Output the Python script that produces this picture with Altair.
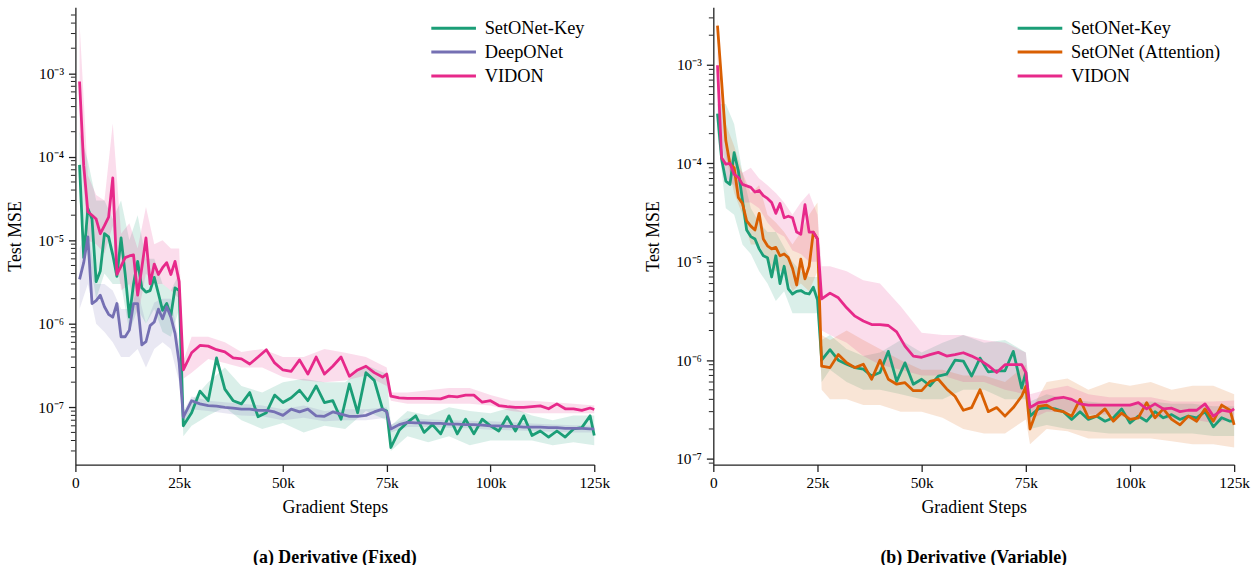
import altair as alt
import pandas as pd

# ---------------- data (x in thousands of gradient steps) ----------------
STEPS_K = list(range(1, 27)) + list(range(28, 75, 2)) + [75, 76] + list(range(78, 125, 2)) + [125]
BAND_K = [1, 3, 5, 7, 9, 11, 13, 15, 17, 19, 21, 23, 25, 26, 28, 32, 36, 40, 45, 50, 55, 60, 65, 70,
          75, 76, 80, 85, 90, 95, 100, 105, 110, 115, 120, 125]

# Panel (a) Derivative (Fixed)
L_KEY = [8.0e-5, 6.2e-6, 2.4e-5, 1.8e-5, 3.2e-6, 4.3e-6, 1.2e-5, 1.1e-5, 6.7e-6, 3.7e-6, 1.07e-5, 3.9e-6, 1.2e-6,
         3.0e-6, 5.6e-6, 2.7e-6, 2.4e-6, 2.5e-6, 3.6e-6, 2.3e-6, 1.45e-6, 1.75e-6, 1.25e-6, 2.7e-6, 2.5e-6, 6.0e-8,
         8.6e-8, 1.56e-7, 1.2e-7, 3.9e-7, 1.65e-7, 1.2e-7, 1.1e-7, 1.5e-7, 7.7e-8, 8.6e-8, 1.4e-7, 1.14e-7,
         1.3e-7, 1.6e-7, 1.2e-7, 1.8e-7, 1.14e-7, 1.2e-7, 7.2e-8, 1.9e-7, 8.6e-8, 2.6e-7, 2.1e-7, 9.5e-8,
         9.0e-8, 3.3e-8,
         5.3e-8, 6.6e-8, 7.9e-8, 5.0e-8, 6.2e-8, 4.8e-8, 7.9e-8, 4.8e-8, 7.2e-8, 4.8e-8, 7.2e-8, 6.0e-8,
         5.2e-8, 7.7e-8, 5.2e-8, 7.9e-8, 4.6e-8, 5.2e-8, 4.4e-8, 5.2e-8, 4.4e-8, 5.5e-8, 5.7e-8, 7.9e-8,
         4.6e-8]
L_DEEP = [3.4e-6, 5.4e-6, 1.1e-5, 1.75e-6, 1.9e-6, 2.2e-6, 1.6e-6, 1.3e-6, 1.2e-6, 1.75e-6, 7.0e-7, 7.0e-7, 8.4e-7,
          1.75e-6, 1.75e-6, 5.6e-7, 6.1e-7, 9.5e-7, 1.05e-6, 1.5e-6, 1.15e-6, 1.6e-6, 1.2e-6, 7.7e-7, 3.4e-7, 7.6e-8,
          1.2e-7, 1.1e-7, 1.05e-7, 1.03e-7, 1.0e-7, 9.8e-8, 9.5e-8, 9.5e-8, 9.2e-8, 9.2e-8, 8.8e-8, 8.0e-8,
          9.5e-8, 8.8e-8, 9.5e-8, 7.9e-8, 7.8e-8, 8.8e-8, 8.3e-8, 7.8e-8, 7.8e-8, 8.0e-8, 8.8e-8, 9.5e-8,
          8.8e-8, 5.5e-8,
          6.2e-8, 6.6e-8, 6.5e-8, 6.5e-8, 6.4e-8, 6.4e-8, 6.3e-8, 6.3e-8, 6.2e-8, 6.2e-8, 6.1e-8, 6.0e-8,
          6.0e-8, 5.9e-8, 5.9e-8, 5.8e-8, 5.8e-8, 5.8e-8, 5.7e-8, 5.7e-8, 5.6e-8, 5.6e-8, 5.6e-8, 5.5e-8,
          5.5e-8]
L_VIDON = [8.0e-4, 7.9e-5, 2.2e-5, 2.0e-5, 1.8e-5, 1.2e-5, 1.5e-5, 1.9e-5, 5.6e-5, 3.9e-6, 4.9e-6, 6.2e-6, 6.5e-6,
           6.7e-6, 2.2e-6, 4.7e-6, 1.07e-5, 3.0e-6, 5.2e-6, 3.9e-6, 4.7e-6, 5.4e-6, 3.9e-6, 5.6e-6, 3.2e-6, 2.8e-7,
           4.5e-7, 5.5e-7, 5.4e-7, 4.9e-7, 4.6e-7, 3.9e-7, 3.8e-7, 3.3e-7, 4.0e-7, 4.9e-7, 3.4e-7, 2.8e-7,
           2.7e-7, 3.7e-7, 2.5e-7, 4.0e-7, 2.5e-7, 3.1e-7, 4.0e-7, 2.35e-7, 2.8e-7, 3.1e-7, 2.6e-7, 2.3e-7,
           2.5e-7, 1.36e-7,
           1.3e-7, 1.28e-7, 1.28e-7, 1.28e-7, 1.27e-7, 1.26e-7, 1.36e-7, 1.33e-7, 1.4e-7, 1.4e-7, 1.15e-7, 1.2e-7,
           1.05e-7, 1.02e-7, 1.0e-7, 1.0e-7, 1.02e-7, 1.04e-7, 9.6e-8, 1.1e-7, 9.6e-8, 9.6e-8, 9.2e-8, 9.8e-8,
           9.4e-8]

L_KEY_LO = [3e-5, 8e-6, 2e-6, 4e-6, 3e-6, 3e-6, 8e-7, 1.5e-6, 1e-6, 1.5e-6, 8e-7, 7e-7, 1.5e-6, 4.5e-8, 6e-8, 8e-8,
            1e-7, 7e-8, 5.5e-8, 6.5e-8, 5e-8, 6e-8, 5.5e-8, 9e-8, 7e-8, 3e-8, 4.5e-8, 3.8e-8, 4.5e-8, 3.5e-8, 4e-8,
            4e-8, 4e-8, 3.5e-8, 3.8e-8, 3.5e-8]
L_KEY_HI = [2e-4, 9e-5, 3e-5, 3e-5, 1.8e-5, 3e-5, 1e-5, 2e-5, 6e-6, 6e-6, 3e-6, 2.5e-6, 4e-6, 8e-8, 1.2e-7, 2e-7,
            3e-7, 1.8e-7, 1.5e-7, 2e-7, 2.2e-7, 2e-7, 2e-7, 3.2e-7, 2.5e-7, 6e-8, 9e-8, 8e-8, 1e-7, 9e-8, 8.5e-8,
            1e-7, 8e-8, 7e-8, 8e-8, 8e-8]
L_DEEP_LO = [1.5e-6, 3e-6, 1e-6, 8e-7, 6e-7, 4e-7, 4e-7, 5e-7, 3e-7, 5e-7, 6e-7, 5e-7, 2e-7, 6.5e-8, 9.5e-8, 9e-8,
             8.5e-8, 8e-8, 7.8e-8, 7e-8, 7.5e-8, 6.8e-8, 7e-8, 7e-8, 7.5e-8, 5e-8, 5.8e-8, 5.8e-8, 5.7e-8, 5.6e-8,
             5.4e-8, 5.3e-8, 5.2e-8, 5.1e-8, 5e-8, 5e-8]
L_DEEP_HI = [8e-6, 1.5e-5, 3e-6, 3e-6, 2.5e-6, 1.5e-6, 1.5e-6, 2.5e-6, 1e-6, 1.8e-6, 2e-6, 2e-6, 6e-7, 9e-8,
             1.35e-7, 1.2e-7, 1.15e-7, 1.1e-7, 1.05e-7, 9.5e-8, 1.05e-7, 9e-8, 9.5e-8, 9.5e-8, 1e-7, 6.2e-8, 7.4e-8,
             7.2e-8, 7e-8, 6.9e-8, 6.8e-8, 6.6e-8, 6.4e-8, 6.2e-8, 6.1e-8, 6e-8]
L_VIDON_LO = [2e-4, 1e-5, 9e-6, 7e-6, 1.5e-5, 2.5e-6, 3e-6, 1.2e-6, 4e-6, 3e-6, 3e-6, 2.5e-6, 2e-6, 2.2e-7, 2.6e-7,
              3.8e-7, 3.4e-7, 3e-7, 3e-7, 2.3e-7, 2.1e-7, 2e-7, 2.1e-7, 2.4e-7, 1.8e-7, 1.2e-7, 1.1e-7, 1.1e-7,
              1.1e-7, 1.1e-7, 1.05e-7, 9e-8, 8.5e-8, 8.5e-8, 8.5e-8, 8.5e-8]
L_VIDON_HI = [4e-3, 6e-5, 3.5e-5, 3e-5, 2.5e-4, 1.2e-5, 1.6e-5, 8e-6, 2.5e-5, 9e-6, 1e-5, 8e-6, 8e-6, 3.6e-7, 7e-7,
              7e-7, 6e-7, 4.6e-7, 5e-7, 4e-7, 4e-7, 5e-7, 4.5e-7, 4e-7, 3e-7, 1.5e-7, 1.5e-7, 1.6e-7, 1.7e-7,
              1.7e-7, 1.4e-7, 1.2e-7, 1.2e-7, 1.15e-7, 1.1e-7, 1.05e-7]

# Panel (b) Derivative (Variable)
R_KEY = [3.2e-4, 1.1e-4, 6.6e-5, 6.1e-5, 1.28e-4, 8.4e-5, 4.2e-5, 2.1e-5, 1.8e-5, 1.7e-5, 1.35e-5, 1.15e-5, 1.1e-5,
         7.0e-6, 1.15e-5, 6.0e-6, 9.0e-6, 5.3e-6, 4.7e-6, 5.0e-6, 5.1e-6, 4.8e-6, 4.7e-6, 5.5e-6, 4.1e-6, 1.0e-6,
         1.28e-6, 1.0e-6, 9.1e-7, 8.4e-7, 8.1e-7, 6.9e-7, 7.5e-7, 1.23e-6, 6.1e-7, 9.4e-7, 5.7e-7, 6.4e-7,
         5.5e-7, 6.9e-7, 7.2e-7, 1.0e-6, 9.8e-7, 6.9e-7, 1.05e-6, 7.6e-7, 7.8e-7, 7.8e-7, 1.23e-6, 5.2e-7,
         7.5e-7, 2.7e-7,
         3.2e-7, 3.3e-7, 3.2e-7, 3.0e-7, 2.5e-7, 3.0e-7, 2.5e-7, 2.7e-7, 2.4e-7, 2.6e-7, 3.2e-7, 2.3e-7,
         2.7e-7, 2.4e-7, 3.0e-7, 2.6e-7, 2.8e-7, 2.5e-7, 2.7e-7, 2.6e-7, 3.0e-7, 2.1e-7, 2.6e-7, 2.4e-7,
         2.4e-7]
R_ATT = [2.5e-3, 6.7e-4, 1.7e-4, 9.8e-5, 9.0e-5, 4.5e-5, 3.9e-5, 2.6e-5, 2.3e-5, 2.1e-5, 3.1e-5, 1.7e-5, 1.45e-5,
         1.35e-5, 1.4e-5, 1.15e-5, 1.2e-5, 1.1e-5, 8.6e-6, 5.8e-6, 1.06e-5, 6.7e-6, 9.0e-6, 2.0e-5, 1.7e-5, 8.7e-7,
         8.4e-7, 1.14e-6, 9.4e-7, 8.4e-7, 9.1e-7, 6.4e-7, 1.0e-6, 6.4e-7, 5.7e-7, 5.9e-7, 4.9e-7, 4.9e-7,
         6.1e-7, 6.4e-7, 5.1e-7, 4.3e-7, 3.1e-7, 3.3e-7, 5.0e-7, 3.0e-7, 3.3e-7, 2.7e-7, 3.3e-7, 4.3e-7,
         5.4e-7, 2.0e-7,
         3.4e-7, 3.5e-7, 3.1e-7, 3.0e-7, 2.7e-7, 4.0e-7, 2.6e-7, 2.7e-7, 3.2e-7, 2.4e-7, 2.9e-7, 2.5e-7,
         2.6e-7, 3.7e-7, 2.6e-7, 3.2e-7, 2.5e-7, 2.2e-7, 2.7e-7, 2.4e-7, 3.2e-7, 2.4e-7, 3.5e-7, 3.1e-7,
         2.2e-7]
R_VIDON = [9.9e-4, 1.14e-4, 9.8e-5, 1.0e-4, 7.7e-5, 7.2e-5, 6.1e-5, 5.9e-5, 5.7e-5, 5.1e-5, 5.3e-5, 4.7e-5, 4.4e-5,
           4.0e-5, 3.1e-5, 3.9e-5, 2.8e-5, 2.9e-5, 2.8e-5, 2.0e-5, 1.9e-5, 3.8e-5, 2.0e-5, 2.0e-5, 1.7e-5, 4.2e-6,
           4.8e-6, 4.3e-6, 3.4e-6, 2.8e-6, 2.5e-6, 2.3e-6, 2.3e-6, 2.25e-6, 1.94e-6, 1.39e-6, 1.1e-6, 1.07e-6,
           1.14e-6, 1.2e-6, 1.1e-6, 1.14e-6, 1.19e-6, 1.1e-6, 1.0e-6, 8.8e-7, 7.5e-7, 9.0e-7, 9.0e-7, 9.0e-7,
           7.5e-7, 3.3e-7,
           3.7e-7, 3.8e-7, 4.1e-7, 4.2e-7, 4.0e-7, 3.6e-7, 3.5e-7, 3.5e-7, 3.5e-7, 3.5e-7, 3.5e-7, 3.5e-7,
           3.7e-7, 3.2e-7, 3.6e-7, 3.2e-7, 3.25e-7, 3.0e-7, 3.1e-7, 3.1e-7, 3.6e-7, 2.7e-7, 3.1e-7, 3.0e-7,
           3.2e-7]

R_KEY_LO = [2e-4, 3.5e-5, 3e-5, 1.5e-5, 1.2e-5, 8e-6, 6e-6, 4e-6, 5e-6, 3e-6, 3e-6, 3e-6, 3e-6, 6e-7, 8e-7, 6e-7,
            5e-7, 5e-7, 4.5e-7, 4e-7, 4e-7, 5e-7, 5e-7, 4e-7, 4e-7, 2e-7, 2.2e-7, 2e-7, 1.9e-7, 1.8e-7, 1.8e-7,
            1.8e-7, 1.8e-7, 1.8e-7, 1.7e-7, 1.7e-7]
R_KEY_HI = [4e-4, 4e-4, 2.5e-4, 8e-5, 3.5e-5, 2.5e-5, 2e-5, 2e-5, 1.4e-5, 1e-5, 8e-6, 7e-6, 7e-6, 1.6e-6, 1.8e-6,
            1.3e-6, 1.1e-6, 1.2e-6, 1.6e-6, 1.2e-6, 1.5e-6, 1.8e-6, 1.5e-6, 1.6e-6, 1.2e-6, 3.8e-7, 4.5e-7, 4e-7,
            3.8e-7, 3.6e-7, 3.6e-7, 3.8e-7, 3.6e-7, 3.6e-7, 3.4e-7, 3.4e-7]
R_ATT_LO = [1.8e-3, 1.2e-4, 5e-5, 3e-5, 1.5e-5, 1.5e-5, 1e-5, 8e-6, 8e-6, 5e-6, 6e-6, 5e-6, 8e-6, 5e-7, 4e-7, 4e-7,
            3.5e-7, 3.5e-7, 3e-7, 3e-7, 2.6e-7, 2e-7, 1.8e-7, 1.8e-7, 2.5e-7, 1.4e-7, 2e-7, 1.9e-7, 1.6e-7, 1.6e-7,
            1.6e-7, 1.6e-7, 1.5e-7, 1.4e-7, 1.4e-7, 1.3e-7]
R_ATT_HI = [3e-3, 2.5e-4, 1.5e-4, 8e-5, 5e-5, 6e-5, 3e-5, 2.5e-5, 2e-5, 1.5e-5, 2e-5, 3e-5, 4e-5, 1.8e-6, 1.6e-6,
            2e-6, 1.6e-6, 1.3e-6, 1e-6, 8e-7, 8e-7, 7e-7, 7e-7, 6e-7, 9e-7, 3e-7, 6e-7, 6.5e-7, 5e-7, 6e-7, 5.5e-7,
            6e-7, 5e-7, 5.5e-7, 5.5e-7, 4.5e-7]
R_VIDON_LO = [6e-4, 7e-5, 6e-5, 4e-5, 4e-5, 3.5e-5, 2.5e-5, 2e-5, 1.8e-5, 1.3e-5, 1.2e-5, 1e-5, 1e-5, 2e-6, 1.8e-6,
              1.5e-6, 1.1e-6, 9e-7, 8e-7, 7e-7, 7e-7, 6e-7, 6e-7, 5e-7, 4.5e-7, 2.5e-7, 3e-7, 3e-7, 2.8e-7, 2.8e-7,
              2.6e-7, 2.6e-7, 2.5e-7, 2.5e-7, 2.3e-7, 2.5e-7]
R_VIDON_HI = [1.5e-3, 1.3e-4, 1e-4, 8e-5, 9e-5, 7e-5, 6e-5, 5e-5, 4e-5, 3e-5, 4e-5, 5e-5, 3e-5, 9e-6, 9e-6, 8e-6,
              6.5e-6, 6e-6, 3.5e-6, 1.9e-6, 1.8e-6, 1.8e-6, 1.6e-6, 1.5e-6, 1.2e-6, 4.5e-7, 5e-7, 5.5e-7, 4.5e-7,
              4.2e-7, 4.2e-7, 4.2e-7, 3.8e-7, 3.8e-7, 3.8e-7, 3.9e-7]

X_TICKS = [0, 25000, 50000, 75000, 100000, 125000]
X_TICK_LABELS = ["0", "25k", "50k", "75k", "100k", "125k"]
Y_TICKS = [1e-7, 1e-6, 1e-5, 1e-4, 1e-3]
Y_TICK_LABELS = ["10\u207b\u2077", "10\u207b\u2076", "10\u207b\u2075", "10\u207b\u2074", "10\u207b\u00b3"]
L_MINOR = [m * 10.0 ** e for e in (-8, -7, -6, -5, -4, -3) for m in range(2, 10)
           if 2.1e-8 <= m * 10.0 ** e <= 5.5e-3]
R_MINOR = [m * 10.0 ** e for e in (-8, -7, -6, -5, -4, -3) for m in range(2, 10)
           if 8.7e-8 <= m * 10.0 ** e <= 3.8e-3]

COLORS = {"SetONet-Key": "#1b9e77", "DeepONet": "#7570b3", "VIDON": "#e7298a",
          "SetONet (Attention)": "#d95f02"}
FONT = "Liberation Serif"
INK = "#222222"


def js_list(items):
    return "[" + ",".join("'" + s + "'" for s in items) + "]"


X_LABEL_EXPR = js_list(X_TICK_LABELS) + "[round(datum.value/25000)]"
Y_LABEL_EXPR = js_list(Y_TICK_LABELS) + "[round(log(datum.value)/LN10)+7]"


def panel(series, bands, ydomain, minor, title, legend_x, width, height):
    names = [s[0] for s in series]
    line_rows = []
    for name, ys in series:
        for k, v in zip(STEPS_K, ys):
            line_rows.append({"step": k * 1000, "mse": v, "model": name})
    band_rows = []
    for name, (lo, hi) in zip(names, bands):
        for k, a, b in zip(BAND_K, lo, hi):
            band_rows.append({"step": k * 1000, "lo": a, "hi": b, "model": name})
    line_df = pd.DataFrame(line_rows)
    band_df = pd.DataFrame(band_rows)

    xscale = alt.Scale(domain=[0, 125000], nice=False, zero=False)
    yscale = alt.Scale(type="log", domain=ydomain, nice=False)
    cscale = alt.Scale(domain=names, range=[COLORS[n] for n in names])

    xaxis = alt.Axis(values=X_TICKS, labelExpr=X_LABEL_EXPR, title="Gradient Steps", grid=False,
                     tickSize=7, tickWidth=1.3, tickColor=INK, domainColor=INK, domainWidth=1.3,
                     labelFont=FONT, labelFontSize=15.5, labelColor="black", labelPadding=4,
                     titleFont=FONT, titleFontSize=18, titleFontWeight="normal", titleColor="black",
                     titlePadding=8, labelFlush=False)
    yaxis = alt.Axis(values=Y_TICKS, labelExpr=Y_LABEL_EXPR, title="Test MSE", grid=False,
                     tickSize=7, tickWidth=1.3, tickColor=INK, domainColor=INK, domainWidth=1.3,
                     labelFont=FONT, labelFontSize=15.5, labelColor="black", labelPadding=5,
                     labelOverlap=False, titleFont=FONT, titleFontSize=18, titleFontWeight="normal",
                     titleColor="black", titleX=-60, titleY=height / 2, titleAngle=270,
                     titleAlign="center", titleBaseline="middle")
    legend = alt.Legend(orient="none", legendX=legend_x, legendY=12, title=None,
                        symbolType="M-3,0H3", symbolSize=225, symbolStrokeWidth=3,
                        symbolOpacity=1, labelFont=FONT, labelFontSize=18.5,
                        labelColor="black", labelOffset=22, rowPadding=5, padding=0)

    band = alt.Chart(band_df).mark_area(opacity=0.16).encode(
        x=alt.X("step:Q", scale=xscale, axis=xaxis),
        y=alt.Y("lo:Q", scale=yscale, axis=yaxis),
        y2="hi:Q",
        color=alt.Color("model:N", scale=cscale, legend=legend),
    )
    line = alt.Chart(line_df).mark_line(strokeWidth=2.8, strokeJoin="round").encode(
        x=alt.X("step:Q", scale=xscale, axis=xaxis),
        y=alt.Y("mse:Q", scale=yscale, axis=yaxis),
        color=alt.Color("model:N", scale=cscale, legend=legend),
    )
    minor_ticks = alt.Chart(pd.DataFrame({"v": minor})).mark_rule(color=INK, strokeWidth=1).encode(
        y=alt.Y("v:Q", scale=yscale, axis=yaxis),
        x=alt.value(-4.5),
        x2=alt.value(0),
    )
    return alt.layer(band, line, minor_ticks).properties(
        width=width, height=height,
        title=alt.TitleParams(text=title, orient="bottom", anchor="middle", frame="group", font=FONT,
                              fontSize=18, fontWeight="bold", color="black", offset=33),
    )


left = panel([("SetONet-Key", L_KEY), ("DeepONet", L_DEEP), ("VIDON", L_VIDON)],
             [(L_KEY_LO, L_KEY_HI), (L_DEEP_LO, L_DEEP_HI), (L_VIDON_LO, L_VIDON_HI)],
             [2.06e-8, 6.2e-3], L_MINOR, "(a) Derivative (Fixed)", 372, 523, 461)
right = panel([("SetONet-Key", R_KEY), ("SetONet (Attention)", R_ATT), ("VIDON", R_VIDON)],
              [(R_KEY_LO, R_KEY_HI), (R_ATT_LO, R_ATT_HI), (R_VIDON_LO, R_VIDON_HI)],
              [8.7e-8, 3.85e-3], R_MINOR, "(b) Derivative (Variable)", 320, 525, 461)

chart = alt.hconcat(left, right, spacing=35).resolve_scale(
    x="independent", y="independent", color="independent"
).properties(
    padding={"left": 7, "top": 5, "right": 5, "bottom": 0},
    background="white",
).configure_view(stroke=None)

chart.save("out.html", embed_options={"renderer": "svg", "actions": False})
